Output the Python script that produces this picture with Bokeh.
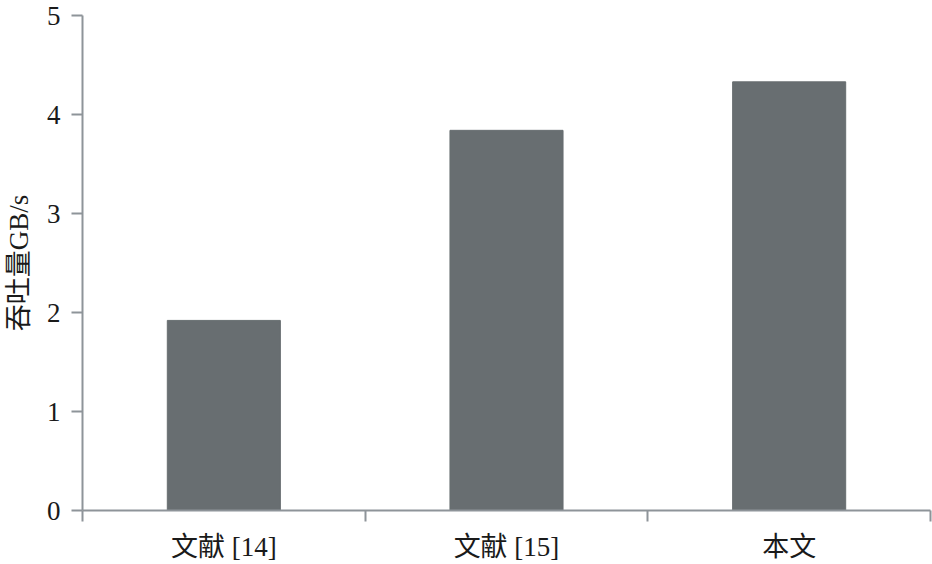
from bokeh.plotting import figure
from bokeh.models import ColumnDataSource, FixedTicker, Range1d
from bokeh.embed import file_html
from bokeh.resources import INLINE

categories = ["文献 [14]", "文献 [15]", "本文"]
throughput = [1.92, 3.84, 4.33]
y_ticks = [0, 1, 2, 3, 4, 5]

xpos = [i + 0.5 for i in range(len(categories))]
src = ColumnDataSource(dict(x=xpos, top=throughput))

FONT = "Liberation Serif, Noto Sans CJK SC"
AX = "#8e9499"

p = figure(width=932, height=564, output_backend="svg", toolbar_location=None,
           x_range=Range1d(0, len(categories)), y_range=Range1d(0, 5),
           min_border_left=82, min_border_right=2, min_border_top=15, min_border_bottom=54)
p.vbar(x="x", top="top", width=0.4, source=src, fill_color="#686e71",
       line_color="#686e71")

p.outline_line_color = None
p.xgrid.grid_line_color = None
p.ygrid.grid_line_color = None

xa = p.xaxis[0]
xa.ticker = FixedTicker(ticks=xpos, minor_ticks=list(range(len(categories) + 1)))
xa.major_label_overrides = {x: c for x, c in zip(xpos, categories)}
xa.major_tick_line_color = None
xa.major_tick_out = 0
xa.major_tick_in = 0
xa.minor_tick_line_color = AX
xa.minor_tick_line_width = 2
xa.minor_tick_out = 11
xa.minor_tick_in = 0
xa.axis_line_color = AX
xa.axis_line_width = 2
xa.major_label_text_font = FONT
xa.major_label_text_font_size = "27px"
xa.major_label_text_color = "#1a1a1a"
xa.major_label_standoff = 10

ya = p.yaxis[0]
ya.ticker = FixedTicker(ticks=y_ticks, minor_ticks=[])
ya.axis_line_color = AX
ya.axis_line_width = 2
ya.major_tick_line_color = AX
ya.major_tick_line_width = 2
ya.major_tick_out = 11
ya.major_tick_in = 0
ya.major_label_text_font = FONT
ya.major_label_text_font_size = "27px"
ya.major_label_text_color = "#1a1a1a"
ya.major_label_standoff = 11
ya.axis_label = "吞吐量GB/s"
ya.axis_label_text_font = FONT
ya.axis_label_text_font_size = "27px"
ya.axis_label_text_font_style = "normal"
ya.axis_label_text_color = "#1a1a1a"
ya.axis_label_standoff = 10

open("out.html", "w").write(file_html(p, INLINE))
